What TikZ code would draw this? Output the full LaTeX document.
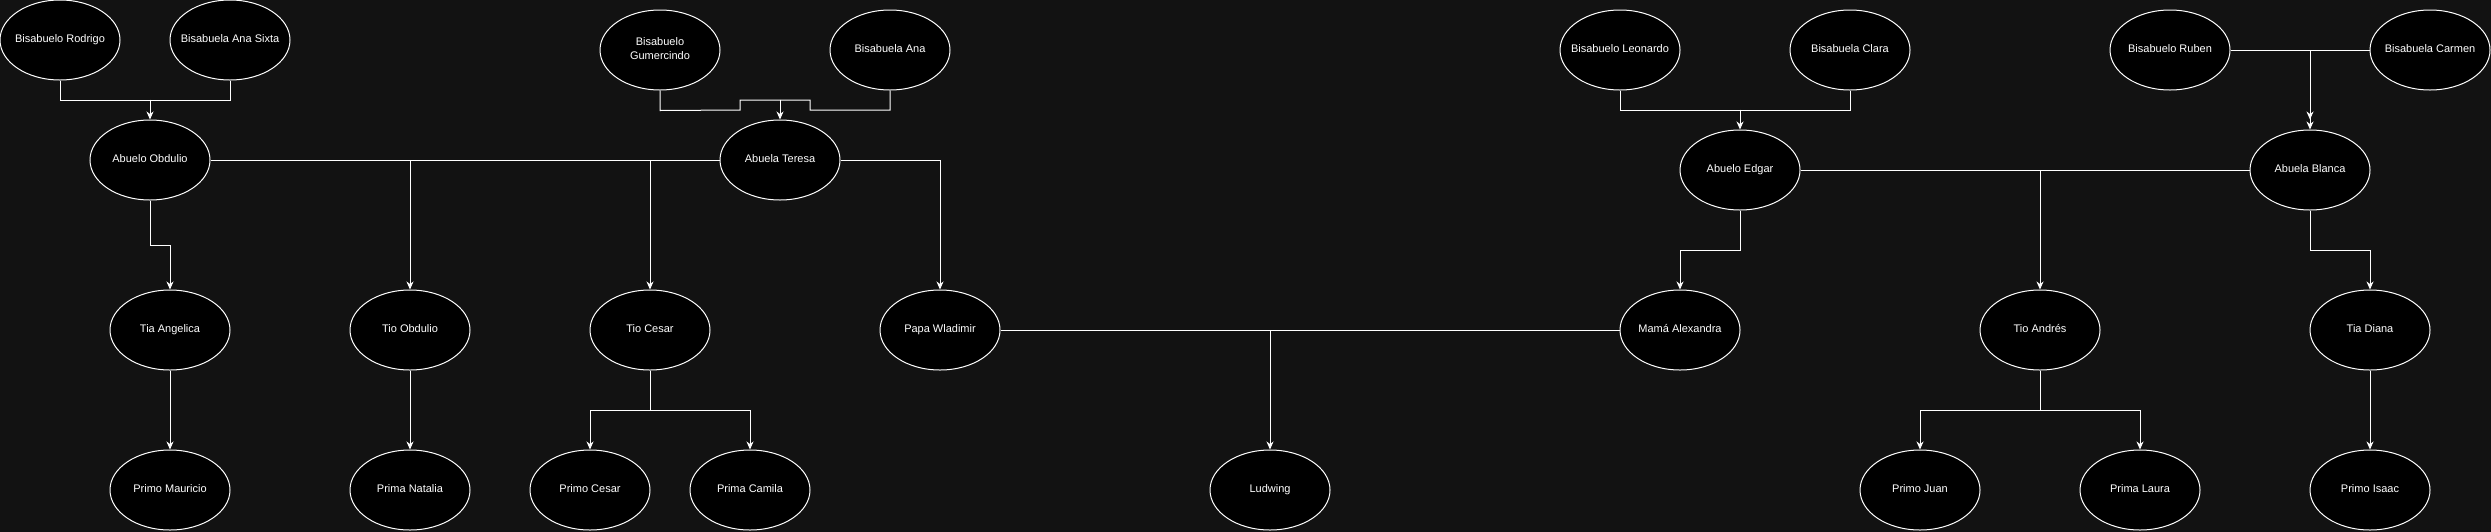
\documentclass[tikz,border=0pt]{standalone}
\usepackage{fontspec}
\setmainfont{Liberation Sans}
\usetikzlibrary{shapes.geometric,arrows.meta,calc}
\definecolor{bgc}{HTML}{121212}
\newcommand{\pname}[1]{\makebox[0pt][c]{\begin{tabular}{@{}c@{}}#1\end{tabular}}}
\tikzset{
  person/.style={ellipse,draw=white,fill=black,text=white,line width=1pt,minimum width=120pt,minimum height=80pt,inner sep=0pt,font=\fontsize{11pt}{14pt}\selectfont},
  link/.style={draw=white,line width=1pt},
  arr/.style={link,-{Stealth[length=8pt,width=7pt,inset=2.5pt]}}
}
\begin{document}
\begin{tikzpicture}[x=1pt,y=-1pt]
\useasboundingbox (0,0) rectangle (2491,531);
\fill[bgc] (-5,-5) rectangle (2496,536);
% great-grandparents
\node[person] (rod) at (60,40) {\pname{Bisabuelo Rodrigo}};
\node[person] (anas) at (230,40) {\pname{Bisabuela Ana Sixta}};
\node[person] (gum) at (660,50) {\pname{Bisabuelo\\Gumercindo}};
\node[person] (ana) at (890,50) {\pname{Bisabuela Ana}};
\node[person] (leo) at (1620,50) {\pname{Bisabuelo Leonardo}};
\node[person] (clara) at (1850,50) {\pname{Bisabuela Clara}};
\node[person] (ruben) at (2170,50) {\pname{Bisabuelo Ruben}};
\node[person] (carmen) at (2430,50) {\pname{Bisabuela Carmen}};
% grandparents
\node[person] (obd) at (150,160) {\pname{Abuelo Obdulio}};
\node[person] (ter) at (780,160) {\pname{Abuela Teresa}};
\node[person] (edgar) at (1740,170) {\pname{Abuelo Edgar}};
\node[person] (blanca) at (2310,170) {\pname{Abuela Blanca}};
% parents, aunts, uncles
\node[person] (tang) at (170,330) {\pname{Tia Angelica}};
\node[person] (tobd) at (410,330) {\pname{Tio Obdulio}};
\node[person] (tces) at (650,330) {\pname{Tio Cesar}};
\node[person] (papa) at (940,330) {\pname{Papa Wladimir}};
\node[person] (mama) at (1680,330) {\pname{Mamá Alexandra}};
\node[person] (andres) at (2040,330) {\pname{Tio Andrés}};
\node[person] (diana) at (2370,330) {\pname{Tia Diana}};
% cousins
\node[person] (pmau) at (170,490) {\pname{Primo Mauricio}};
\node[person] (pnat) at (410,490) {\pname{Prima Natalia}};
\node[person] (pces) at (590,490) {\pname{Primo Cesar}};
\node[person] (pcam) at (750,490) {\pname{Prima Camila}};
\node[person] (lud) at (1270,490) {\pname{Ludwing}};
\node[person] (pjuan) at (1920,490) {\pname{Primo Juan}};
\node[person] (plau) at (2140,490) {\pname{Prima Laura}};
\node[person] (pisa) at (2370,490) {\pname{Primo Isaac}};
% great-grandparents to grandparents
\draw[link] (rod.south) -- ++(0,20) -| (anas.south);
\draw[arr] ($(obd.north)+(0,-20)$) -- (obd.north);
\draw[link] (gum.south) -- ++(0,20) -- (740,110) -- (740,100) -- (810,100) -- (810,110) -| (ana.south);
\draw[arr] ($(ter.north)+(0,-20)$) -- (ter.north);
\draw[link] (leo.south) -- ++(0,20) -| (clara.south);
\draw[arr] ($(edgar.north)+(0,-20)$) -- (edgar.north);
\draw[link] (ruben.east) -- (carmen.west);
\draw[arr] (blanca.north |- ruben.east) -- ($(blanca.north)+(0,-10)$);
\draw[arr] (blanca.north |- ruben.east) -- (blanca.north);
% Obdulio - Teresa
\draw[link] (obd.east) -- (ter.west);
\draw[arr] (obd.south) -- ++(0,45) -| (tang.north);
\draw[arr] (tobd.north |- obd.east) -- (tobd.north);
\draw[arr] (tces.north |- obd.east) -- (tces.north);
\draw[arr] (ter.east) -| (papa.north);
% Edgar - Blanca
\draw[link] (edgar.east) -- (blanca.west);
\draw[arr] (edgar.south) -- ++(0,40) -| (mama.north);
\draw[arr] (andres.north |- edgar.east) -- (andres.north);
\draw[arr] (blanca.south) -- ++(0,40) -| (diana.north);
% parents to children
\draw[arr] (tang.south) -- (pmau.north);
\draw[arr] (tobd.south) -- (pnat.north);
\draw[link] (tces.south) -- ++(0,40) coordinate (cj);
\draw[arr] (cj) -| (pces.north);
\draw[arr] (cj) -| (pcam.north);
\draw[link] (papa.east) -- (mama.west);
\draw[arr] (lud.north |- papa.east) -- (lud.north);
\draw[link] (andres.south) -- ++(0,40) coordinate (aj);
\draw[arr] (aj) -| (pjuan.north);
\draw[arr] (aj) -| (plau.north);
\draw[arr] (diana.south) -- (pisa.north);
\end{tikzpicture}
\end{document}
